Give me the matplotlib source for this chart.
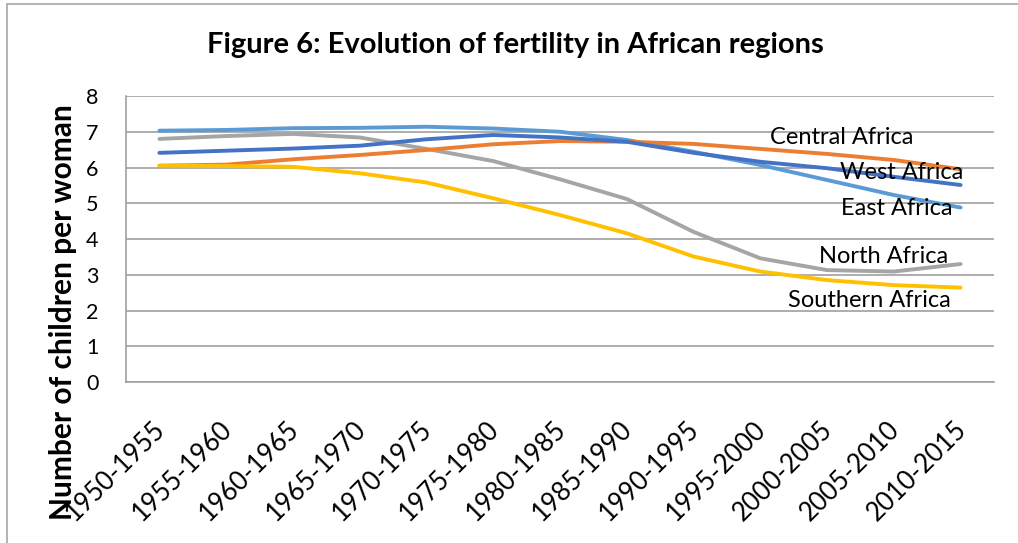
import matplotlib
matplotlib.use("Agg")
import matplotlib.pyplot as plt
from matplotlib.patches import Rectangle
from matplotlib.transforms import ScaledTranslation

# periods on the category axis
periods = ["1950-1955", "1955-1960", "1960-1965", "1965-1970", "1970-1975",
           "1975-1980", "1980-1985", "1985-1990", "1990-1995", "1995-2000",
           "2000-2005", "2005-2010", "2010-2015"]

# total fertility rate by region
central_africa = [6.05, 6.08, 6.23, 6.35, 6.49, 6.65, 6.74, 6.72, 6.66, 6.52, 6.38, 6.21, 5.95]
west_africa = [6.41, 6.47, 6.53, 6.61, 6.79, 6.91, 6.84, 6.72, 6.41, 6.16, 5.98, 5.74, 5.51]
east_africa = [7.03, 7.05, 7.10, 7.11, 7.14, 7.09, 7.00, 6.77, 6.44, 6.07, 5.65, 5.23, 4.88]
north_africa = [6.80, 6.88, 6.94, 6.84, 6.52, 6.18, 5.67, 5.12, 4.20, 3.46, 3.13, 3.09, 3.30]
southern_africa = [6.05, 6.04, 6.02, 5.84, 5.58, 5.14, 4.67, 4.16, 3.51, 3.09, 2.85, 2.71, 2.64]

plt.rcParams['font.family'] = ['Lato', 'DejaVu Sans']

fig = plt.figure(figsize=(10.18, 5.43), dpi=100)
ax = fig.add_axes([0.1238, 0.2965, 0.8526, 0.5267])

x = range(len(periods))
lw = 2.8
ax.plot(x, east_africa, color="#5B9BD5", lw=lw, solid_capstyle="round")
ax.plot(x, north_africa, color="#A5A5A5", lw=lw, solid_capstyle="round")
ax.plot(x, central_africa, color="#ED7D31", lw=lw, solid_capstyle="round")
ax.plot(x, southern_africa, color="#FFC000", lw=lw, solid_capstyle="round")
ax.plot(x, west_africa, color="#4472C4", lw=lw, solid_capstyle="round")

# region names placed next to line ends
lab_fs = 17
ax.text(10.22, 6.85, "Central Africa", fontsize=lab_fs, ha="center", va="center")
ax.text(11.12, 5.85, "West Africa", fontsize=lab_fs, ha="center", va="center")
ax.text(11.04, 4.84, "East Africa", fontsize=lab_fs, ha="center", va="center")
ax.text(10.85, 3.52, "North Africa", fontsize=lab_fs, ha="center", va="center")
ax.text(10.63, 2.29, "Southern Africa", fontsize=lab_fs, ha="center", va="center")

ax.set_xlim(-0.5, len(periods) - 0.5)
ax.set_ylim(0, 8)
ax.set_yticks(range(0, 9))
ax.set_xticks(list(x))
ax.set_xticklabels(periods, rotation=45, ha="right", va="top",
                   rotation_mode="anchor", fontsize=18.5)
ax.tick_params(axis="both", length=0)
ax.tick_params(axis="y", labelsize=15.5, pad=20)
ax.tick_params(axis="x", pad=20)

# nudge the slanted labels a bit left and down
shift = ScaledTranslation(-7 / 100, -7 / 100, fig.dpi_scale_trans)
for lab in ax.get_xticklabels():
    lab.set_transform(lab.get_transform() + shift)

ax.grid(axis="y", color="#A0A0A0", lw=1.2)
ax.set_axisbelow(True)
for s in ["top", "right"]:
    ax.spines[s].set_visible(False)
for s in ["left", "bottom"]:
    ax.spines[s].set_color("#A0A0A0")
    ax.spines[s].set_linewidth(1.2)

fig.text(0.506, 0.917, "Figure 6: Evolution of fertility in African regions",
         fontsize=21, fontweight="bold", ha="center", va="center")
fig.text(0.062, 0.425, "Number of children per woman", fontsize=21.5,
         fontweight="bold", rotation=90, ha="center", va="center")

# outer chart frame (only top and left edges fall inside the picture)
fig.patches.append(Rectangle((7 / 1018, -0.1), 1.2, 1 - 4 / 543 + 0.1,
                             transform=fig.transFigure, fill=False,
                             edgecolor="#A6A6A6", lw=1.2))

fig.savefig("out.png", dpi=100)
